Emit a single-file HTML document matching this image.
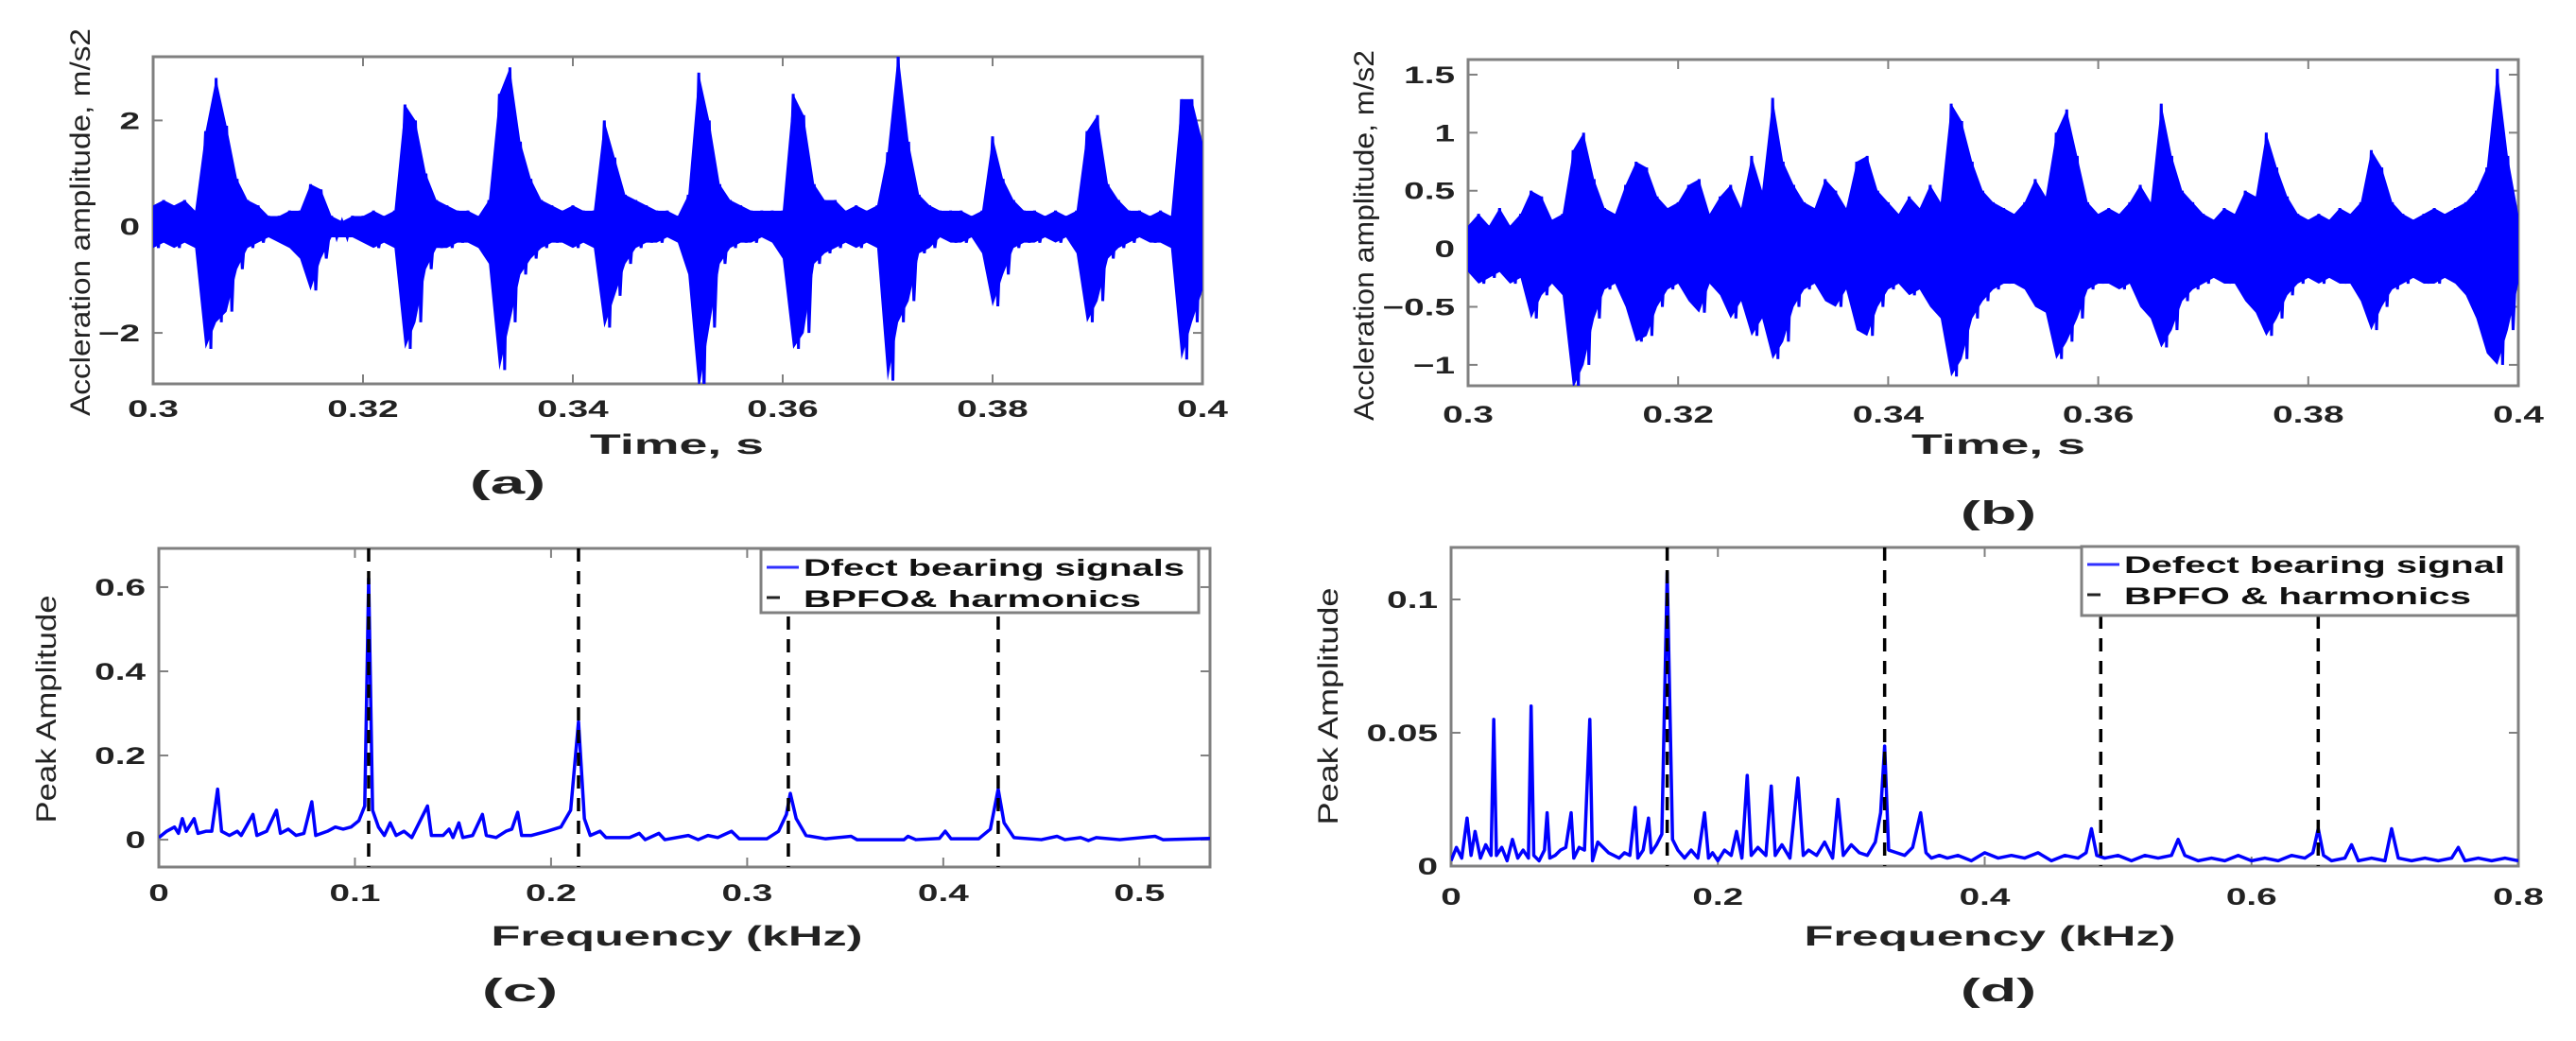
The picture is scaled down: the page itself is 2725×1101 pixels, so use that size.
<!DOCTYPE html>
<html><head><meta charset="utf-8"><style>
html,body{margin:0;padding:0;background:#fff;}
svg{display:block;}
text{font-family:"Liberation Sans",sans-serif;}
</style></head><body>
<svg id="fig" width="2725" height="1101" viewBox="0 0 2725 1101" xmlns="http://www.w3.org/2000/svg"></svg>
<script>
// ---------- data ----------
const timeStartA = 0.3;
const timeStepA = 0.001;
const upperA = [0.4,0.5,0.4,0.5,0.3,1.8,2.8,1.9,0.9,0.5,0.4,0.2,0.2,0.3,0.3,0.8,0.7,0.2,0.1,0.2,0.2,0.3,0.2,0.3,2.3,2.0,1.0,0.5,0.4,0.3,0.3,0.2,0.5,2.5,3.0,1.6,0.9,0.5,0.4,0.3,0.4,0.3,0.3,2.0,1.3,0.6,0.5,0.4,0.3,0.3,0.2,0.6,2.9,2.0,0.8,0.5,0.4,0.3,0.3,0.3,0.3,2.5,2.1,0.8,0.5,0.5,0.3,0.4,0.3,0.4,1.4,3.3,1.6,0.6,0.4,0.3,0.3,0.3,0.2,0.3,1.7,0.9,0.5,0.3,0.3,0.2,0.3,0.2,0.3,1.8,2.1,0.8,0.5,0.3,0.3,0.2,0.3,0.2,2.4,2.4,1.6];
const lowerA = [-0.4,-0.3,-0.4,-0.3,-0.4,-2.3,-1.8,-1.6,-0.8,-0.4,-0.3,-0.2,-0.3,-0.4,-0.6,-1.2,-0.6,-0.2,-0.2,-0.2,-0.3,-0.4,-0.3,-0.4,-2.3,-1.8,-0.8,-0.4,-0.4,-0.3,-0.3,-0.4,-0.7,-2.7,-1.8,-0.9,-0.6,-0.4,-0.3,-0.3,-0.4,-0.3,-0.4,-1.9,-1.3,-0.7,-0.4,-0.3,-0.3,-0.2,-0.3,-0.9,-3.1,-1.9,-0.7,-0.4,-0.3,-0.3,-0.2,-0.3,-0.6,-2.3,-2.0,-0.7,-0.5,-0.4,-0.3,-0.4,-0.3,-0.4,-2.9,-1.8,-1.4,-0.5,-0.4,-0.2,-0.3,-0.3,-0.2,-0.5,-1.5,-0.9,-0.4,-0.3,-0.3,-0.2,-0.3,-0.2,-0.5,-1.8,-1.4,-0.6,-0.4,-0.3,-0.2,-0.3,-0.3,-0.4,-2.5,-1.8,-1.2];
const timeStartB = 0.3;
const timeStepB = 0.001;
const upperB = [0.2,0.3,0.2,0.35,0.2,0.3,0.5,0.45,0.25,0.3,0.85,1.0,0.6,0.35,0.3,0.55,0.75,0.7,0.45,0.35,0.4,0.55,0.6,0.3,0.45,0.55,0.35,0.8,0.5,1.3,0.75,0.55,0.4,0.35,0.6,0.5,0.35,0.75,0.8,0.5,0.4,0.3,0.45,0.35,0.55,0.4,1.25,1.1,0.75,0.5,0.4,0.35,0.3,0.4,0.6,0.45,1.0,1.2,0.8,0.4,0.3,0.35,0.3,0.4,0.55,0.4,1.25,0.8,0.5,0.4,0.3,0.25,0.35,0.3,0.5,0.45,1.0,0.7,0.45,0.3,0.25,0.3,0.25,0.35,0.3,0.4,0.85,0.7,0.4,0.3,0.25,0.3,0.35,0.3,0.35,0.4,0.5,0.7,1.55,0.8,0.3];
const lowerB = [-0.2,-0.3,-0.25,-0.2,-0.3,-0.25,-0.6,-0.4,-0.3,-0.4,-1.2,-1.0,-0.6,-0.35,-0.3,-0.5,-0.8,-0.75,-0.5,-0.35,-0.3,-0.45,-0.55,-0.3,-0.4,-0.6,-0.45,-0.75,-0.6,-0.95,-0.8,-0.5,-0.35,-0.3,-0.45,-0.5,-0.35,-0.7,-0.75,-0.5,-0.35,-0.3,-0.4,-0.35,-0.5,-0.6,-1.1,-0.95,-0.6,-0.45,-0.35,-0.3,-0.3,-0.35,-0.5,-0.55,-0.95,-0.8,-0.6,-0.35,-0.3,-0.3,-0.35,-0.3,-0.5,-0.6,-0.85,-0.7,-0.45,-0.35,-0.3,-0.25,-0.3,-0.3,-0.45,-0.55,-0.75,-0.6,-0.4,-0.3,-0.25,-0.3,-0.25,-0.3,-0.3,-0.45,-0.7,-0.5,-0.35,-0.3,-0.25,-0.3,-0.3,-0.25,-0.3,-0.4,-0.6,-0.9,-1.0,-0.7,-0.3];
const freqC = [0,0.004,0.008,0.010,0.012,0.014,0.018,0.020,0.024,0.027,0.030,0.032,0.036,0.040,0.042,0.048,0.050,0.055,0.060,0.062,0.066,0.070,0.074,0.078,0.080,0.086,0.090,0.094,0.098,0.102,0.105,0.107,0.109,0.112,0.115,0.118,0.121,0.125,0.129,0.137,0.139,0.145,0.148,0.150,0.153,0.155,0.160,0.165,0.167,0.172,0.177,0.180,0.183,0.185,0.190,0.198,0.205,0.210,0.214,0.217,0.220,0.225,0.228,0.240,0.245,0.248,0.255,0.258,0.270,0.275,0.280,0.285,0.292,0.296,0.310,0.316,0.320,0.322,0.325,0.330,0.340,0.353,0.356,0.380,0.382,0.386,0.398,0.401,0.404,0.418,0.424,0.428,0.431,0.436,0.450,0.458,0.462,0.470,0.474,0.478,0.490,0.508,0.512,0.536];
const ampC = [0.005,0.02,0.03,0.015,0.05,0.02,0.05,0.015,0.02,0.02,0.12,0.02,0.01,0.02,0.01,0.06,0.01,0.02,0.07,0.015,0.025,0.01,0.015,0.09,0.01,0.02,0.03,0.025,0.03,0.045,0.08,0.62,0.07,0.03,0.01,0.04,0.01,0.02,0.005,0.08,0.01,0.01,0.025,0.005,0.04,0.005,0.01,0.06,0.01,0.005,0.02,0.025,0.065,0.01,0.01,0.02,0.03,0.07,0.28,0.05,0.01,0.02,0.005,0.005,0.015,0.0,0.015,0.0,0.01,0.0,0.01,0.005,0.02,0.002,0.002,0.02,0.06,0.11,0.05,0.01,0.002,0.008,0.0,0.0,0.008,0.0,0.003,0.02,0.002,0.002,0.025,0.12,0.04,0.005,0.0,0.008,0.0,0.005,-0.002,0.005,0.0,0.008,0.0,0.003];
const bpfoC = [0.107,0.214,0.321,0.428];
const freqD = [0,0.004,0.008,0.012,0.015,0.018,0.022,0.026,0.030,0.032,0.034,0.038,0.042,0.046,0.050,0.054,0.058,0.060,0.062,0.066,0.070,0.072,0.074,0.078,0.082,0.086,0.090,0.092,0.096,0.100,0.104,0.106,0.110,0.114,0.118,0.122,0.126,0.130,0.134,0.138,0.140,0.144,0.148,0.150,0.154,0.158,0.162,0.166,0.170,0.175,0.180,0.185,0.190,0.193,0.196,0.200,0.205,0.210,0.214,0.218,0.222,0.225,0.230,0.236,0.240,0.243,0.248,0.254,0.260,0.264,0.268,0.274,0.280,0.286,0.290,0.294,0.300,0.306,0.312,0.318,0.322,0.325,0.328,0.334,0.340,0.346,0.352,0.356,0.360,0.366,0.372,0.380,0.390,0.400,0.410,0.420,0.430,0.440,0.450,0.460,0.470,0.476,0.480,0.484,0.490,0.500,0.510,0.520,0.530,0.540,0.545,0.550,0.560,0.570,0.580,0.590,0.600,0.610,0.620,0.630,0.640,0.646,0.650,0.654,0.660,0.670,0.675,0.680,0.690,0.700,0.705,0.710,0.720,0.730,0.740,0.750,0.755,0.760,0.770,0.780,0.790,0.800];
const ampD = [0.002,0.007,0.003,0.018,0.004,0.013,0.003,0.008,0.004,0.055,0.004,0.007,0.002,0.01,0.003,0.006,0.003,0.06,0.004,0.002,0.006,0.02,0.003,0.004,0.006,0.007,0.02,0.003,0.007,0.006,0.055,0.002,0.009,0.007,0.005,0.004,0.003,0.005,0.004,0.022,0.003,0.006,0.018,0.005,0.008,0.012,0.11,0.01,0.006,0.003,0.006,0.003,0.02,0.003,0.005,0.002,0.006,0.004,0.013,0.003,0.034,0.004,0.007,0.004,0.03,0.004,0.008,0.003,0.033,0.004,0.006,0.004,0.009,0.003,0.025,0.004,0.008,0.005,0.004,0.009,0.02,0.045,0.006,0.005,0.004,0.007,0.02,0.005,0.003,0.004,0.003,0.004,0.002,0.005,0.003,0.004,0.003,0.005,0.002,0.004,0.003,0.005,0.014,0.004,0.003,0.004,0.002,0.004,0.003,0.004,0.01,0.004,0.002,0.003,0.002,0.004,0.002,0.003,0.002,0.004,0.003,0.005,0.014,0.004,0.002,0.003,0.008,0.002,0.003,0.002,0.014,0.003,0.002,0.003,0.002,0.003,0.007,0.002,0.003,0.002,0.003,0.002,0.002];
const bpfoD = [0.162,0.325,0.487,0.650];
const ticksXA = ["0.3","0.32","0.34","0.36","0.38","0.4"];
const ticksYA = ["-2","0","2"];
const ticksYB = ["-1","-0.5","0","0.5","1","1.5"];
const ticksXC = ["0","0.1","0.2","0.3","0.4","0.5"];
const ticksYC = ["0","0.2","0.4","0.6"];
const ticksXD = ["0","0.2","0.4","0.6","0.8"];
const ticksYD = ["0","0.05","0.1"];

// ---------- drawing ----------
const NS = "http://www.w3.org/2000/svg";
const svg = document.getElementById("fig");
function mk(tag, attrs, parent){
  const e = document.createElementNS(NS, tag);
  for (const k in attrs) e.setAttribute(k, attrs[k]);
  (parent||svg).appendChild(e);
  return e;
}
function lin(d0,d1,r0,r1){ return v => r0 + (v-d0)*(r1-r0)/(d1-d0); }

function axesBox(p, name){
  const g = mk("g", {});
  
  
  mk("rect", {x:p.l, y:p.t, width:p.r-p.l, height:p.b-p.t, fill:"none", stroke:"#808080", "stroke-width":3}, g);
  return g;
}
function tickText(str, x, y, anchor, parent, name){
  const t = mk("text", {transform:`translate(${x},${y}) scale(1.55,1)`, "text-anchor":anchor, "font-size":25, "font-weight":"bold", fill:"#222"}, parent);
  t.textContent = str.replace("-", "\u2212");
  
  
  return t;
}
function drawTicks(p, X, Y, xt, yt, g, xBase, prefix){
  xt.forEach(s => {
    const x = X(parseFloat(s));
    mk("line", {x1:x, x2:x, y1:p.b, y2:p.b-10, stroke:"#808080", "stroke-width":2}, g);
    mk("line", {x1:x, x2:x, y1:p.t, y2:p.t+10, stroke:"#808080", "stroke-width":2}, g);
    tickText(s, x, xBase, "middle", g, prefix+"-x-tick-label");
  });
  yt.forEach(s => {
    const y = Y(parseFloat(s));
    mk("line", {x1:p.l, x2:p.l+10, y1:y, y2:y, stroke:"#808080", "stroke-width":2}, g);
    mk("line", {x1:p.r, x2:p.r-10, y1:y, y2:y, stroke:"#808080", "stroke-width":2}, g);
    tickText(s, p.l-14, y+9, "end", g, prefix+"-y-tick-label");
  });
}
function label(str, x, y, len, size, opts){
  opts = opts||{};
  const a = {x:x, y:y, "text-anchor":"middle", "font-size":size, "font-weight":opts.weight||"bold", fill:"#222", textLength:len, lengthAdjust:"spacingAndGlyphs"};
  if (opts.rot) a.transform = `rotate(-90 ${x} ${y})`;
  if (opts.family) a["font-family"] = opts.family;
  const t = mk("text", a);
  t.textContent = str;
  return t;
}
function signalPanel(p, up, lo, t0, dt, xt, yt, prefix){
  const X = lin(0.3,0.4,p.l,p.r), Y = lin(p.y0,p.y1,p.b,p.t);
  const g = axesBox(p, prefix+"-axes");
  const clipId = prefix+"clip";
  const cp = mk("clipPath", {id:clipId}); mk("rect",{x:p.l,y:p.t,width:p.r-p.l,height:p.b-p.t},cp);
  let top = [], bot = [], zz = [];
  up.forEach((v,i)=>{ const t=t0+i*dt; top.push(X(t)+","+Y(v)); zz.push(X(t)+","+Y(v)); zz.push(X(t+dt/2)+","+Y(lo[i])); });
  lo.forEach((v,i)=>{ bot.push(X(t0+i*dt)+","+Y(v)); });
  const fill = mk("polygon", {points: top.concat(bot.reverse()).join(" "), fill:"#0000ff", "clip-path":`url(#${clipId})`});
  
  
  const line = mk("polyline", {points: zz.join(" "), fill:"none", stroke:"#0000ff", "stroke-width":3, "clip-path":`url(#${clipId})`});
  
  
  drawTicks(p, X, Y, xt, yt, g, p.xb, prefix);
}
function spectrumPanel(p, fr, am, bp, xt, yt, prefix){
  const X = lin(0,p.x1,p.l,p.r), Y = lin(p.y0,p.y1,p.b,p.t);
  const g = axesBox(p, prefix+"-axes");
  const clipId = prefix+"clip";
  const cp = mk("clipPath", {id:clipId}); mk("rect",{x:p.l,y:p.t,width:p.r-p.l,height:p.b-p.t},cp);
  const pts = fr.map((f,i)=>X(f)+","+Y(am[i])).join(" ");
  const line = mk("polyline", {points:pts, fill:"none", stroke:"#0000ff", "stroke-width":3.5, "stroke-linejoin":"round", "clip-path":`url(#${clipId})`});
  
  
  bp.forEach(f=>{
    const l = mk("line", {x1:X(f), x2:X(f), y1:p.t, y2:p.b, stroke:"#000", "stroke-width":3.5, "stroke-dasharray":"14 10"});
    
    
  });
  drawTicks(p, X, Y, xt, yt, g, p.xb, prefix);
}
function legend(x0,y0,x1,y1,s1,s2,len2,name){
  const g = mk("g", {});
  
  
  mk("rect", {x:x0,y:y0,width:x1-x0,height:y1-y0,fill:"#fff",stroke:"#808080","stroke-width":3}, g);
  mk("line", {x1:x0+6,x2:x0+40,y1:y0+19,y2:y0+19,stroke:"#3030ff","stroke-width":3}, g);
  mk("line", {x1:x0+6,x2:x0+20,y1:y0+51,y2:y0+51,stroke:"#222","stroke-width":3}, g);
  const t1 = mk("text", {x:x0+45,y:y0+28,"font-size":25,"font-weight":"bold",fill:"#111",textLength:403,lengthAdjust:"spacingAndGlyphs"}, g);
  t1.textContent = s1;
  
  
  const t2 = mk("text", {x:x0+45,y:y0+61,"font-size":25,"font-weight":"bold",fill:"#111",textLength:len2,lengthAdjust:"spacingAndGlyphs"}, g);
  t2.textContent = s2;
  
  
}

const pA = {l:162, r:1272, t:60, b:406, y0:-2.96, y1:3.2, xb:441};
const pB = {l:1553, r:2664, t:63, b:408, y0:-1.18, y1:1.63, xb:447};
const pC = {l:168, r:1280, t:580, b:917, x1:0.536, y0:-0.065, y1:0.692, xb:953};
const pD = {l:1535, r:2664, t:579, b:916, x1:0.8, y0:0, y1:0.1195, xb:957};

signalPanel(pA, upperA, lowerA, timeStartA, timeStepA, ticksXA, ticksYA, "panel-a");
signalPanel(pB, upperB, lowerB, timeStartB, timeStepB, ticksXA, ticksYB, "panel-b");
spectrumPanel(pC, freqC, ampC, bpfoC, ticksXC, ticksYC, "panel-c");
spectrumPanel(pD, freqD, ampD, bpfoD, ticksXD, ticksYD, "panel-d");

legend(805,581,1268,648,"Dfect bearing signals","BPFO& harmonics",357,"legend-c");
legend(2202,578,2663,651,"Defect bearing signal","BPFO & harmonics",367,"legend-d");

let t;
t = label("Accleration amplitude, m/s2", 95, 235, 410, 30, {rot:true, weight:"normal"});
 
t = label("Accleration amplitude, m/s2", 1453, 249, 392, 30, {rot:true, weight:"normal"});
 
t = label("Peak Amplitude", 59, 750, 241, 30, {rot:true, weight:"normal"});
 
t = label("Peak Amplitude", 1415, 747, 251, 30, {rot:true, weight:"normal"});
 
t = label("Time, s", 716, 480, 184, 30);
 
t = label("Time, s", 2114, 480, 184, 30);
 
t = label("Frequency (kHz)", 716, 1000, 393, 30);
 
t = label("Frequency (kHz)", 2105, 1000, 393, 30);
 
t = label("(a)", 537, 522, 80, 34, {family:"Liberation Serif"});
 
t = label("(b)", 2114, 554, 80, 34, {family:"Liberation Serif"});
 
t = label("(c)", 550, 1059, 80, 34, {family:"Liberation Serif"});
 
t = label("(d)", 2114, 1059, 80, 34, {family:"Liberation Serif"});
 
</script>
</body></html>
